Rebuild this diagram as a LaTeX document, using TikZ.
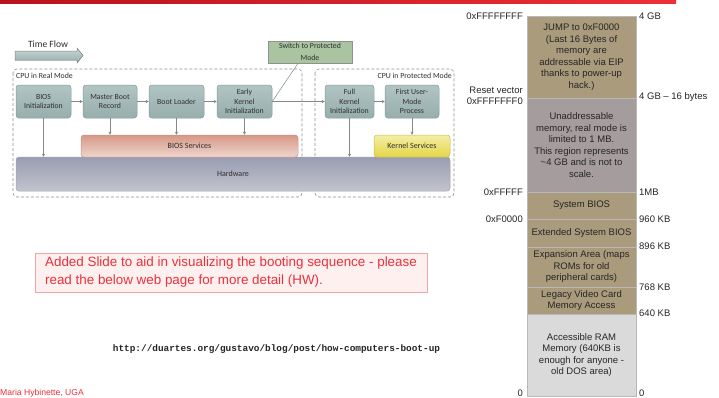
\documentclass[tikz,border=0pt]{standalone}
\usepackage{fontspec}
\setmainfont{Liberation Sans}
\setmonofont{Liberation Mono}
\newfontfamily\calfont{Carlito}
\usetikzlibrary{arrows.meta}
\definecolor{boxfillA}{HTML}{B1C5C3}
\definecolor{boxfillB}{HTML}{97AEAC}
\definecolor{boxline}{HTML}{849A99}
\definecolor{arrowgray}{HTML}{7E8A8C}
\definecolor{dashgray}{HTML}{8E9094}
\definecolor{tanfill}{HTML}{A99B7B}
\definecolor{mauvefill}{HTML}{A49C9D}
\definecolor{ramgray}{HTML}{DADADA}
\definecolor{slidered}{HTML}{E8313B}
\definecolor{notefill}{HTML}{FFF0F0}
\definecolor{noteline}{HTML}{F4A4A8}
\definecolor{txtgray}{HTML}{2E2E2E}
\definecolor{hwtop}{HTML}{9A9DB1}
\definecolor{hwbot}{HTML}{C2C3CE}
\definecolor{biostop}{HTML}{D79886}
\definecolor{biosbot}{HTML}{EED6CE}
\definecolor{kstop}{HTML}{F4EEA6}
\definecolor{ksbot}{HTML}{E4D546}
\definecolor{switchfill}{HTML}{AAC4A1}
\definecolor{switchline}{HTML}{8A948A}
\definecolor{redA}{HTML}{B8121C}
\definecolor{redB}{HTML}{EE3036}
\tikzset{
  x=1pt, y=-1pt,
  stage/.style={rounded corners=3pt, draw=boxline, line width=0.5pt,
    top color=boxfillA, bottom color=boxfillB, align=center,
    font=\calfont\fontsize{7.8}{9.2}\selectfont, text=txtgray, inner sep=1pt,
    minimum height=33pt},
  flowarrow/.style={-{Stealth[length=3pt,width=3pt]}, draw=arrowgray, line width=0.5pt},
  modebox/.style={draw=dashgray, dash pattern=on 3pt off 2pt, rounded corners=4pt, line width=0.6pt},
  modelabel/.style={font=\calfont\fontsize{7.8}{9}\selectfont, text=txtgray, inner sep=0pt},
  memregion/.style={draw=gray!55, line width=0.4pt, minimum width=109pt, align=center,
    font=\fontsize{9.5}{11.5}\selectfont, text=black!85, inner sep=0pt},
  memlab/.style={font=\fontsize{9.5}{10.5}\selectfont, text=black!85, inner sep=0pt, align=right},
  memlabr/.style={font=\fontsize{9.5}{10.5}\selectfont, text=black!85, inner sep=0pt, anchor=west},
}
\begin{document}
\begin{tikzpicture}
\useasboundingbox[fill=white] (0,0) rectangle (719,397);
% top red bar
\shade[left color=redA, right color=redB] (0,0) rectangle (676,3);

% time flow arrow
\node[font=\calfont\fontsize{9.6}{11}\selectfont, text=txtgray, inner sep=0pt] (tf) at (48,44) {Time Flow};
\fill[top color=boxfillA!70!white, bottom color=boxfillB, draw=arrowgray, line width=0.5pt]
  (15,51) -- (77,51) -- (77,48) -- (83,55.5) -- (77,63) -- (77,60) -- (15,60) -- cycle;

% mode boxes
\draw[modebox] (13,69) rectangle (302,197);
\draw[modebox] (315,69) rectangle (454,197);
\node[modelabel, anchor=west] (rmlab) at (16,75.5) {CPU in Real Mode};
\node[modelabel, anchor=east] (pmlab) at (452,75.5) {CPU in Protected Mode};

% hardware & services
\node[rounded corners=3pt, draw=gray!70, line width=0.5pt, top color=hwtop, bottom color=hwbot,
  minimum width=434pt, minimum height=34pt, font=\calfont\fontsize{8}{9}\selectfont, text=txtgray]
  (hw) at (233,174) {Hardware};
\node[rounded corners=3pt, draw=biostop!80!gray, line width=0.5pt, top color=biostop, bottom color=biosbot,
  minimum width=217pt, minimum height=22pt, font=\calfont\fontsize{8}{9}\selectfont, text=txtgray]
  (bs) at (189.5,146) {BIOS Services};
\node[rounded corners=3pt, draw=ksbot!70!gray, line width=0.5pt, top color=kstop, bottom color=ksbot,
  minimum width=76pt, minimum height=22pt, font=\calfont\fontsize{8}{9}\selectfont, text=txtgray]
  (ks) at (412,146) {Kernel Services};

% stages
\node[stage, minimum width=55pt] (bios) at (43.5,101.5) {BIOS\\Initialization};
\node[stage, minimum width=54pt] (mbr) at (110,101.5) {Master Boot\\Record};
\node[stage, minimum width=55pt] (boot) at (176.5,101.5) {Boot Loader};
\node[stage, minimum width=55pt] (early) at (244.5,101.5) {Early\\Kernel\\Initialization};
\node[stage, minimum width=49pt] (full) at (349.5,101.5) {Full\\Kernel\\Initialization};
\node[stage, minimum width=54pt] (first) at (412,101.5) {First User-\\Mode\\Process};
\node[draw=switchline, fill=switchfill, line width=0.5pt, minimum width=84pt, minimum height=22pt,
  align=center, font=\calfont\fontsize{7.8}{11.5}\selectfont, text=txtgray, inner sep=0pt]
  (sw) at (310,52) {Switch to Protected\\Mode};

% flow arrows
\draw[flowarrow] (bios) -- (mbr);
\draw[flowarrow] (mbr) -- (boot);
\draw[flowarrow] (boot) -- (early);
\draw[flowarrow] (early) -- (full);
\draw[flowarrow] (full) -- (first);
\draw[draw=arrowgray, line width=0.5pt] (early.east) -- ([xshift=-12pt]sw.south);
% down arrows
\draw[flowarrow] (bios.south) -- (bios.south |- hw.north);
\draw[flowarrow] (mbr.south) -- (mbr.south |- bs.north);
\draw[flowarrow] (boot.south) -- (boot.south |- bs.north);
\draw[flowarrow] (early.south) -- (early.south |- bs.north);
\draw[flowarrow] (full.south) -- (full.south |- hw.north);
\draw[flowarrow] (first.south) -- (first.south |- ks.north);

% note
\node[draw=noteline, fill=notefill, line width=0.6pt, minimum width=392pt, minimum height=39pt,
  align=left, font=\fontsize{13.4}{18}\selectfont, text=slidered, inner sep=0pt]
  (note) at (231,272.5) {Added Slide to aid in visualizing the booting sequence - please\\read the below web page for more detail (HW).};
\node[font=\ttfamily\bfseries\fontsize{9.4}{10}\selectfont, text=black!85, inner sep=0pt]
  (url) at (276.5,349) {http://duartes.org/gustavo/blog/post/how-computers-boot-up};
\node[font=\fontsize{8.6}{9}\selectfont, text=slidered, anchor=west, inner sep=0pt]
  (author) at (0,393.5) {Maria Hybinette, UGA};

% memory map
\node[memregion, fill=tanfill, minimum height=82pt] (m1) at (581.5,57)
  {JUMP to 0xF0000\\(Last 16 Bytes of\\memory are\\addressable via EIP\\thanks to power-up\\hack.)};
\node[memregion, fill=mauvefill, minimum height=94pt] (m2) at (581.5,145)
  {Unaddressable\\memory, real mode is\\limited to 1 MB.\\This region represents\\\textasciitilde4 GB and is not to\\scale.};
\node[memregion, fill=tanfill, minimum height=27pt] (m3) at (581.5,205.5) {System BIOS};
\node[memregion, fill=tanfill, minimum height=28pt] (m4) at (581.5,233) {Extended System BIOS};
\node[memregion, fill=tanfill, minimum height=40pt] (m5) at (581.5,267)
  {Expansion Area (maps\\ROMs for old\\peripheral cards)};
\node[memregion, fill=tanfill, minimum height=27pt] (m6) at (581.5,300.5)
  {Legacy Video Card\\Memory Access};
\node[memregion, fill=ramgray, minimum height=82pt] (m7) at (581.5,355)
  {Accessible RAM\\Memory (640KB is\\enough for anyone -\\old DOS area)};

% left labels
\node[memlab, anchor=east] (l1) at (523,16) {0xFFFFFFFF};
\node[memlab, anchor=east] (l2) at (523,96) {Reset vector\\0xFFFFFFF0};
\node[memlab, anchor=east] (l3) at (523,192) {0xFFFFF};
\node[memlab, anchor=east] (l4) at (523,219) {0xF0000};
\node[memlab, anchor=east] (l5) at (523,393) {0};
% right labels
\node[memlabr] (r1) at (639,16) {4 GB};
\node[memlabr] (r2) at (639,97) {4 GB -- 16 bytes};
\node[memlabr] (r3) at (639,192) {1MB};
\node[memlabr] (r4) at (639,219) {960 KB};
\node[memlabr] (r5) at (639,246) {896 KB};
\node[memlabr] (r6) at (639,287) {768 KB};
\node[memlabr] (r7) at (639,313) {640 KB};
\node[memlabr] (r8) at (639,393) {0};
\end{tikzpicture}
\end{document}
